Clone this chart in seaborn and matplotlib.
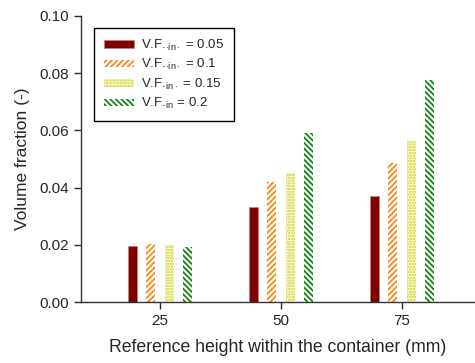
import pandas as pd
import matplotlib.pyplot as plt
import seaborn as sns

heights = ["25", "50", "75"]
vf_labels = ["0.05", "0.1", "0.15", "0.2"]
vf_005 = [0.0195, 0.0331, 0.0371]
vf_01 = [0.0203, 0.0420, 0.0485]
vf_015 = [0.0199, 0.0452, 0.0562]
vf_02 = [0.0192, 0.0590, 0.0776]

legend_labels = [
    r"V.F.$_{\cdot\mathregular{in}\cdot}$ = 0.05",
    r"V.F.$_{\cdot\mathregular{in}\cdot}$ = 0.1",
    r"V.F.$_{\mathregular{in}\cdot}$ = 0.15",
    r"V.F.$_{\mathregular{in}}$ = 0.2",
]

rows = []
for lab, vals in zip(vf_labels, [vf_005, vf_01, vf_015, vf_02]):
    for h, v in zip(heights, vals):
        rows.append({"height": h, "vf": lab, "value": v})
df = pd.DataFrame(rows)

sns.set_style("ticks")
plt.rcParams["font.family"] = ["Liberation Sans", "DejaVu Sans"]
plt.rcParams["mathtext.fontset"] = "custom"
plt.rcParams["mathtext.rm"] = "Liberation Sans"
plt.rcParams["hatch.linewidth"] = 1.2

fig = plt.figure(figsize=(4.75, 3.63), dpi=100)
ax = fig.add_axes([0.1705, 0.168, 0.8295, 0.788])

colors = ["#800000", "#ff8000", "#cccc00", "#008000"]
hatches = [None, "//////", "......", "\\\\\\\\\\\\"]

sns.barplot(data=df, x="height", y="value", hue="vf", order=heights,
            hue_order=vf_labels, width=0.6, gap=0.5, legend=False, ax=ax)

for cont, col, hat in zip(ax.containers, colors, hatches):
    for p in cont:
        if hat is None:
            p.set_facecolor(col)
            p.set_edgecolor("#c08080")
            p.set_linewidth(0.5)
        else:
            p.set_facecolor("white")
            p.set_edgecolor(col)
            p.set_hatch(hat)
            p.set_linewidth(0)

ax.set_xlim(-0.653, 2.603)
ax.set_ylim(0, 0.10)
ax.set_yticks([0, 0.02, 0.04, 0.06, 0.08, 0.10])
ax.set_yticklabels(["0.00", "0.02", "0.04", "0.06", "0.08", "0.10"])
ax.tick_params(axis="both", labelsize=11, direction="out", length=5, width=1)
ax.set_xlabel("Reference height within the container (mm)", fontsize=12.7, labelpad=8)
ax.set_ylabel("Volume fraction (-)", fontsize=12.5, labelpad=7)
sns.despine(ax=ax)
for s in ["left", "bottom"]:
    ax.spines[s].set_linewidth(1)
    ax.spines[s].set_color("#333333")

leg = ax.legend(handles=ax.containers, labels=legend_labels, loc="upper left",
                bbox_to_anchor=(0.033, 0.958), borderaxespad=0, fontsize=9.5,
                frameon=True, fancybox=False, edgecolor="black", framealpha=1,
                handlelength=2.3, handleheight=0.5, labelspacing=0.33,
                borderpad=0.75, handletextpad=0.55)
leg.get_frame().set_linewidth(1)

plt.savefig("out.png", dpi=100)
